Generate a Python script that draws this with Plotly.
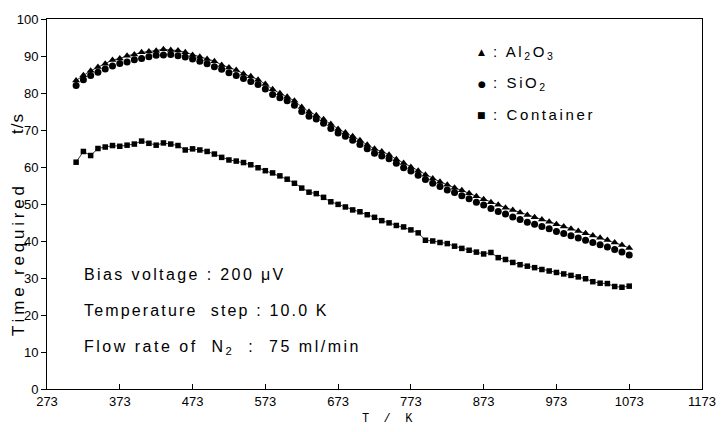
import plotly.graph_objects as go

# Temperature (K), 10 K steps
T = list(range(313, 1083, 10))

al2o3 = [83.4, 84.8, 86.0, 87.0, 87.9, 88.9, 89.3, 90.1, 90.4, 91.0,
         91.2, 91.4, 91.8, 91.6, 91.5, 91.0, 90.3, 89.8, 89.2, 88.6,
         87.6, 86.9, 86.2, 85.2, 84.5, 83.6, 82.4, 81.0, 79.9, 79.0,
         77.9, 76.2, 74.9, 74.0, 72.9, 71.6, 70.3, 69.3, 68.3, 67.2,
         66.0, 64.9, 64.2, 63.3, 62.1, 61.1, 60.0, 59.0, 57.9, 56.9,
         56.0, 55.2, 54.4, 53.7, 52.9, 52.1, 51.3, 50.5, 49.8, 49.0,
         48.4, 47.7, 47.0, 46.4, 45.8, 45.2, 44.5, 43.9, 43.3, 42.7,
         42.1, 41.5, 40.9, 40.3, 39.6, 38.9, 38.1]

sio2 = [82.0, 83.6, 84.7, 85.6, 86.5, 87.3, 88.0, 88.4, 89.0, 89.3,
        89.8, 90.2, 90.3, 90.4, 90.1, 89.7, 89.2, 88.6, 87.9, 87.1,
        86.4, 85.5, 84.7, 83.9, 83.1, 82.3, 81.1, 79.6, 78.7, 77.9,
        76.7, 75.0, 73.7, 73.0, 71.8, 70.4, 69.2, 68.3, 67.2, 66.1,
        64.9, 63.7, 63.0, 62.2, 61.0, 59.8, 58.9, 57.8, 56.6, 55.6,
        54.7, 53.8, 53.1, 52.2, 51.4, 50.5, 49.7, 48.8, 48.0, 47.3,
        46.5, 45.8, 45.1, 44.5, 43.9, 43.3, 42.6, 42.0, 41.4, 40.8,
        40.2, 39.6, 39.0, 38.4, 37.7, 37.0, 36.2]

container = [61.3, 64.2, 63.1, 65.0, 65.4, 65.8, 65.6, 65.9, 66.2, 67.0,
             66.4, 65.9, 66.5, 66.2, 65.8, 64.6, 64.9, 64.6, 64.2, 63.5,
             62.6, 61.9, 61.6, 61.2, 60.6, 59.8, 59.0, 58.4, 57.6, 56.7,
             55.6, 54.3, 53.2, 52.8, 51.8, 50.6, 49.9, 49.2, 48.4, 47.9,
             47.1, 46.4, 45.5, 44.9, 44.2, 43.8, 43.0, 42.2, 40.2, 40.0,
             39.6, 39.3, 38.6, 38.0, 37.5, 37.0, 36.5, 36.9, 35.5, 35.0,
             34.2, 33.6, 33.2, 32.8, 32.3, 31.9, 31.5, 31.1, 30.7, 30.3,
             29.8, 29.0, 28.6, 28.5, 27.7, 27.5, 27.8]

x_ticks = [273, 373, 473, 573, 673, 773, 873, 973, 1073, 1173]
y_ticks = [0, 10, 20, 30, 40, 50, 60, 70, 80, 90, 100]

FONT = "Liberation Sans, Arial, sans-serif"
NB = "\u00a0"

fig = go.Figure()
fig.add_trace(go.Scatter(x=T, y=sio2, mode="markers", name="SiO2",
                         marker=dict(symbol="circle", size=7, color="black")))
fig.add_trace(go.Scatter(x=T, y=al2o3, mode="lines+markers", name="Al2O3",
                         line=dict(color="black", width=0.8),
                         marker=dict(symbol="triangle-up", size=7, color="black")))
fig.add_trace(go.Scatter(x=T, y=container, mode="lines+markers", name="Container",
                         line=dict(color="black", width=0.8),
                         marker=dict(symbol="square", size=5.5, color="black")))

fig.update_xaxes(range=[273, 1173], tickvals=x_ticks, ticktext=[str(v) for v in x_ticks],
                 ticks="inside", ticklen=5, tickcolor="black", tickwidth=1,
                 showline=True, linecolor="black", linewidth=1, mirror=True,
                 showgrid=False, zeroline=False,
                 tickfont=dict(family=FONT, size=13, color="black"))
fig.update_yaxes(range=[0, 100], tickvals=y_ticks, ticktext=[str(v) for v in y_ticks],
                 ticks="outside", ticklen=5, tickcolor="black", tickwidth=1,
                 showline=True, linecolor="black", linewidth=1, mirror=True,
                 showgrid=False, zeroline=False,
                 tickfont=dict(family=FONT, size=13, color="black"))

PW, PH = 666, 373.5


def px(x):
    return (x - 47) / PW


def py(y):
    return (389 - y) / PH


ann = []
# 0: x title
ann.append(dict(text="T" + NB + NB + "/" + NB + NB + "K", xref="paper", yref="paper", x=px(393), y=0,
                yshift=-30, xanchor="center", yanchor="middle", showarrow=False,
                font=dict(family="Liberation Mono, Courier New, monospace", size=12, color="black")))
# 1, 2: y title
ann.append(dict(text="Time required", xref="paper", yref="paper", x=0, xshift=-29,
                y=py(258), textangle=-90, xanchor="center", yanchor="middle",
                showarrow=False, font=dict(family=FONT, size=17, color="black")))
ann.append(dict(text="t/s", xref="paper", yref="paper", x=0, xshift=-29,
                y=py(121), textangle=-90, xanchor="center", yanchor="middle",
                showarrow=False, font=dict(family=FONT, size=17, color="black")))

# 3..8: legend (symbol, label)
leg = [("▲", "Al<sub>2</sub>O<sub>3</sub>", 49), ("●", "SiO<sub>2</sub>", 81), ("■", "Container", 112)]
for sym, lab, yy in leg:
    ann.append(dict(text=sym, xref="paper", yref="paper", x=px(489),
                    y=py(yy), xanchor="center", yanchor="middle", showarrow=False,
                    font=dict(family="DejaVu Sans", size=9, color="black")))
    ann.append(dict(text=": " + lab, xref="paper", yref="paper", x=px(498),
                    y=py(yy), xanchor="left", yanchor="middle", showarrow=False,
                    font=dict(family=FONT, size=15, color="black")))

# 9..11: condition notes
notes = [("Bias voltage : 200 μV", 273),
         ("Temperature" + NB + NB + "step : 10.0 K", 310),
         ("Flow rate of" + NB + NB + "N<sub>2</sub>" + NB + NB + ":" + NB + NB + "75 ml/min", 347)]
for txt, yy in notes:
    ann.append(dict(text=txt, xref="paper", yref="paper", x=px(83),
                    y=py(yy), xanchor="left", yanchor="middle", showarrow=False,
                    font=dict(family=FONT, size=16, color="black")))

fig.update_layout(width=728, height=432, margin=dict(l=47, r=15, t=16, b=43),
                  paper_bgcolor="white", plot_bgcolor="white", showlegend=False,
                  annotations=ann)

post = """
document.body.style.margin = '0';
var gd = document.getElementById('{plot_id}');
function annText(k) { return gd.querySelector('g.annotation[data-index="' + k + '"] text'); }
function leftAnchor(t) { var bb = t.getBBox(); t.setAttribute('text-anchor', 'start'); t.setAttribute('x', bb.x); }
var cs = {1: 3.8, 2: 1};
for (var k in cs) { var t = annText(k); if (t) { t.style.letterSpacing = cs[k] + 'px'; } }
var ls = {4: 2.6, 6: 2.6, 8: 2.6};
for (var k in ls) { var t = annText(k); if (t) { leftAnchor(t); t.style.letterSpacing = ls[k] + 'px'; } }
var tw = {9: 202, 10: 245, 11: 282};
for (var k in tw) {
  var t = annText(k);
  if (t) {
    leftAnchor(t);
    var w = t.getBBox().width;
    var n = t.textContent.length;
    t.style.letterSpacing = ((tw[k] - w) / n) + 'px';
  }
}
"""

fig.write_html("out.html", post_script=post, config={"displayModeBar": False})
